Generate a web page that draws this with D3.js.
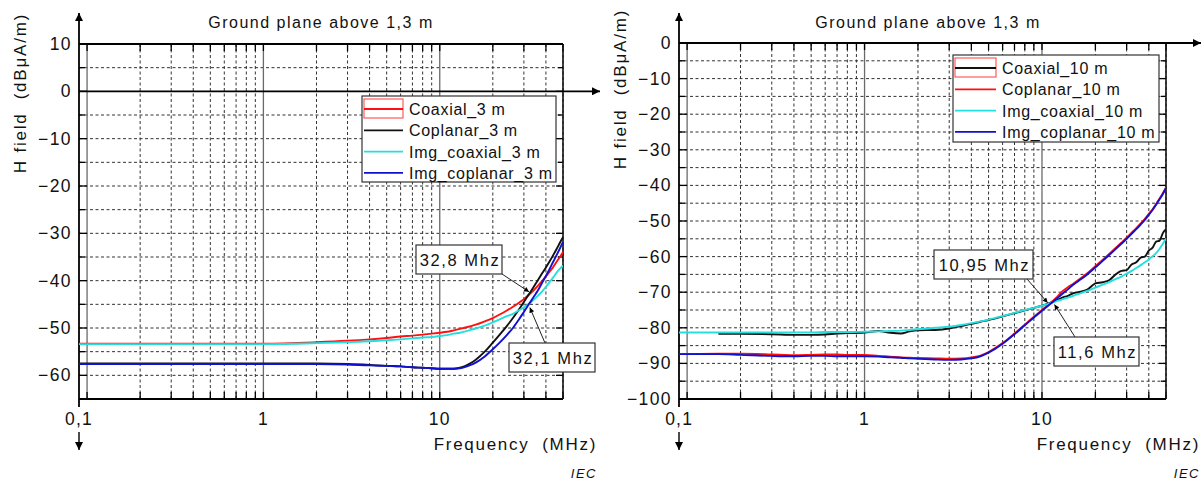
<!DOCTYPE html>
<html>
<head>
<meta charset="utf-8">
<script src="https://cdn.jsdelivr.net/npm/d3@7"></script>
<style>
  body { margin: 0; background: #fff; }
  svg text { font-family: "Liberation Sans", Arial, Helvetica, sans-serif; fill: #111; }
</style>
</head>
<body>
<svg id="chart" width="1204" height="484"></svg>
<script>
// ---------- data: 3 m setup (left panel) ----------
const freq3 = [0.09, 0.2, 0.5, 1, 2, 3, 4, 5, 6, 7, 8, 9, 10, 11, 12, 13, 14, 15, 16, 18, 20,
  22, 24, 26, 28, 30, 32, 34, 36, 38, 40, 42, 44, 46, 48, 50];
const coaxial3 = [-53.3, -53.3, -53.3, -53.3, -53.0, -52.7, -52.4, -52.1, -51.8, -51.6, -51.4, -51.2,
  -51.0, -50.8, -50.5, -50.2, -49.9, -49.6, -49.3, -48.6, -47.9, -47.1, -46.3, -45.5, -44.7, -43.9,
  -43.0, -42.1, -41.1, -40.1, -39.1, -38.1, -37.1, -36.0, -35.0, -34.0];
const coplanar3 = [-57.5, -57.5, -57.5, -57.5, -57.5, -57.6, -57.8, -58.0, -58.1, -58.3, -58.4, -58.5,
  -58.6, -58.6, -58.6, -58.4, -58.0, -57.4, -56.7, -55.0, -53.1, -51.3, -49.6, -47.9, -46.2, -44.5,
  -42.9, -41.4, -39.9, -38.5, -37.2, -35.9, -34.6, -33.3, -32.0, -30.8];
const imgCoaxial3 = [-53.4, -53.4, -53.4, -53.4, -53.2, -53.0, -52.8, -52.6, -52.4, -52.2, -52.0, -51.9,
  -51.7, -51.5, -51.2, -51.0, -50.7, -50.4, -50.1, -49.5, -48.8, -48.1, -47.5, -47.0, -46.3, -45.6,
  -44.9, -44.1, -43.2, -42.3, -41.3, -40.3, -39.3, -38.3, -37.5, -36.8];
const imgCoplanar3 = [-57.6, -57.6, -57.6, -57.6, -57.6, -57.7, -57.9, -58.0, -58.1, -58.3, -58.4, -58.5,
  -58.6, -58.6, -58.6, -58.5, -58.2, -57.8, -57.3, -56.0, -54.5, -53.0, -51.5, -50.0, -48.3, -46.6,
  -45.0, -43.5, -42.1, -40.5, -39.0, -37.5, -36.0, -34.6, -33.2, -31.8];

// ---------- data: 10 m setup (right panel) ----------
const freq10 = [0.09, 0.15, 0.2, 0.3, 0.4, 0.5, 0.6, 0.7, 0.8, 1, 1.2, 1.4, 1.6, 1.8, 2, 2.5, 3, 3.5,
  4, 4.5, 5, 6, 7, 8, 9, 10, 11, 12, 13, 14, 15, 16, 18, 20, 22, 24, 26, 28, 30, 32, 34, 36, 38, 40,
  42, 44, 46, 48, 50];
const coaxial10 = [null, -81.7, -81.7, -81.8, -82.0, -82.0, -81.9, -81.6, -81.5, -81.3, -80.9, -81.4,
  -81.6, -81.0, -80.7, -80.6, -80.2, -79.5, -78.9, -78.3, -77.8, -76.8, -75.9, -75.1, -74.4, -73.8,
  -73.1, -72.3, -71.5, -71.0, -70.3, -70.0, -69.3, -67.5, -67.2, -66.6, -65.0, -64.0, -63.8, -62.2,
  -61.6, -60.3, -60.0, -58.3, -57.5, -55.8, -55.5, -53.4, -52.3];
const coplanar10 = [-87.4, -87.3, -87.3, -87.5, -87.7, -87.6, -87.5, -87.5, -87.6, -87.6, -87.9, -88.1,
  -88.3, -88.4, -88.5, -88.6, -88.7, -88.6, -88.3, -87.8, -86.8, -84.3, -81.6, -79.1, -76.9, -75.0,
  -73.3, -71.6, -69.8, -68.6, -67.6, -66.6, -64.7, -62.7, -60.9, -59.2, -57.6, -56.1, -54.7, -53.3,
  -52.0, -50.7, -49.4, -48.0, -46.7, -45.2, -43.7, -42.2, -40.6];
const imgCoaxial10 = [-81.3, -81.3, -81.3, -81.3, -81.3, -81.3, -81.2, -81.2, -81.2, -81.1, -81.0, -80.9,
  -80.8, -80.6, -80.4, -80.0, -79.7, -79.2, -78.7, -78.2, -77.7, -76.7, -75.8, -75.0, -74.4, -73.8,
  -73.2, -72.6, -72.0, -71.5, -71.0, -70.5, -69.6, -68.7, -67.9, -67.1, -66.3, -65.6, -64.8, -64.0,
  -63.2, -62.4, -61.6, -60.8, -59.9, -59.0, -57.8, -56.4, -54.9];
const imgCoplanar10 = [-87.4, -87.4, -87.6, -87.9, -88.0, -87.9, -87.9, -88.0, -88.0, -88.0, -88.1, -88.3,
  -88.4, -88.6, -88.7, -88.9, -89.0, -88.9, -88.6, -88.0, -87.0, -84.5, -81.8, -79.3, -77.1, -75.2,
  -73.5, -72.0, -70.5, -69.2, -67.9, -66.9, -65.0, -63.0, -61.2, -59.5, -57.9, -56.4, -55.0, -53.6,
  -52.3, -51.0, -49.7, -48.3, -46.9, -45.4, -43.9, -42.4, -40.8];

// ---------- axis ticks and labels ----------
const xTickValues = [0.1, 1, 10];
const xTickLabels = ["0,1", "1", "10"];
const yTicks3 = [10, 0, -10, -20, -30, -40, -50, -60];
const yTicks10 = [0, -10, -20, -30, -40, -50, -60, -70, -80, -90, -100];
const titleText = "Ground plane above 1,3 m";
const yLabelText = "H field  (dBμA/m)";
const xLabelText = "Frequency  (MHz)";

// crossing annotations: [label, frequency, field value]
const notes3 = [["32,8 Mhz", 32.8, -42.6], ["32,1 Mhz", 32.1, -45.3]];
const notes10 = [["10,95 Mhz", 10.95, -73.4], ["11,6 Mhz", 11.6, -73.0]];

const RED = "#ff1010", BLACK = "#111111", CYAN = "#22e0e0", BLUE = "#1010d0";

const svg = d3.select("#chart");
const defs = svg.append("defs");
defs.append("marker").attr("id", "axisHead")
  .attr("viewBox", "0 0 10 10").attr("refX", 10).attr("refY", 5)
  .attr("markerUnits", "userSpaceOnUse").attr("markerWidth", 13).attr("markerHeight", 8)
  .attr("orient", "auto")
  .append("path").attr("d", "M0,0 L10,5 L0,10 z").attr("fill", "#000");
defs.append("marker").attr("id", "noteHead")
  .attr("viewBox", "0 0 10 10").attr("refX", 10).attr("refY", 5)
  .attr("markerUnits", "userSpaceOnUse").attr("markerWidth", 10).attr("markerHeight", 5)
  .attr("orient", "auto")
  .append("path").attr("d", "M0,0 L10,5 L0,10 z").attr("fill", "#000");

function panel(o) {
  const x = d3.scaleLog().domain([0.09, 50]).range(o.xRange);
  const y = d3.scaleLinear().domain(o.yDomain).range([o.bottom, o.top]);
  const [x0, x1] = o.xRange;
  const top = o.top, bottom = o.bottom;
  const g = svg.append("g");
  const clipId = "clip" + o.id;
  defs.append("clipPath").attr("id", clipId)
    .append("rect").attr("x", x0).attr("y", top).attr("width", x1 - x0).attr("height", bottom - top);

  // minor frequency positions
  const minorF = [];
  [0.1, 1, 10].forEach(d => { for (let k = 2; k <= 9; k++) { const f = k * d; if (f <= 50) minorF.push(+f.toPrecision(3)); } });

  // dashed vertical grid
  g.selectAll(null).data(minorF).join("line")
    .attr("x1", d => x(d)).attr("x2", d => x(d)).attr("y1", top).attr("y2", bottom)
    .attr("stroke", "#333").attr("stroke-width", 1).attr("stroke-dasharray", "3,2.5");
  // dashed horizontal grid every 5 units
  const hGrid = d3.range(o.yDomain[0] + 5, o.yDomain[1], 5).filter(v => v !== o.solidY);
  g.selectAll(null).data(hGrid).join("line")
    .attr("x1", x0).attr("x2", x1).attr("y1", d => y(d)).attr("y2", d => y(d))
    .attr("stroke", "#333").attr("stroke-width", 1).attr("stroke-dasharray", "3,2.5");
  // solid decade lines
  g.selectAll(null).data(xTickValues).join("line")
    .attr("x1", d => x(d)).attr("x2", d => x(d)).attr("y1", top).attr("y2", bottom)
    .attr("stroke", "#6a6a6a").attr("stroke-width", 1.3);

  // tick marks: bottom (up), top (down)
  const allF = minorF.concat(xTickValues);
  g.selectAll(null).data(allF).join("line")
    .attr("x1", d => x(d)).attr("x2", d => x(d)).attr("y1", bottom).attr("y2", bottom - 7)
    .attr("stroke", "#000").attr("stroke-width", 1.3);
  g.selectAll(null).data(allF).join("line")
    .attr("x1", d => x(d)).attr("x2", d => x(d)).attr("y1", top).attr("y2", top + 7)
    .attr("stroke", "#000").attr("stroke-width", 1.3);
  // left (right-pointing) and right (left-pointing) ticks every 5
  const yAll = d3.range(o.yDomain[0], o.yDomain[1] + 0.1, 5);
  g.selectAll(null).data(yAll).join("line")
    .attr("x1", x0).attr("x2", d => x0 + (d % 10 === 0 ? 8 : 6)).attr("y1", d => y(d)).attr("y2", d => y(d))
    .attr("stroke", "#000").attr("stroke-width", 1.3);
  g.selectAll(null).data(yAll).join("line")
    .attr("x1", x1).attr("x2", d => x1 - (d % 10 === 0 ? 7 : 5)).attr("y1", d => y(d)).attr("y2", d => y(d))
    .attr("stroke", "#000").attr("stroke-width", 1.3);

  // frame
  g.append("line").attr("x1", x0).attr("x2", x1).attr("y1", top).attr("y2", top)
    .attr("stroke", "#000").attr("stroke-width", 1.8);
  g.append("line").attr("x1", x0).attr("x2", x1).attr("y1", bottom).attr("y2", bottom)
    .attr("stroke", "#000").attr("stroke-width", 1.8);
  g.append("line").attr("x1", x1).attr("x2", x1).attr("y1", top).attr("y2", bottom)
    .attr("stroke", "#111").attr("stroke-width", 1.6);
  // y axis with upward arrow
  g.append("line").attr("x1", x0).attr("x2", x0).attr("y1", bottom + 8).attr("y2", 13)
    .attr("stroke", "#000").attr("stroke-width", 1.8).attr("marker-end", "url(#axisHead)");
  // downward arrow below the axis
  g.append("line").attr("x1", x0).attr("x2", x0).attr("y1", bottom + 33).attr("y2", bottom + 51)
    .attr("stroke", "#000").attr("stroke-width", 1.4).attr("marker-end", "url(#axisHead)");
  // x axis line with arrow
  g.append("line").attr("x1", x0).attr("x2", o.arrowX).attr("y1", y(o.solidY)).attr("y2", y(o.solidY))
    .attr("stroke", "#000").attr("stroke-width", 1.8).attr("marker-end", "url(#axisHead)");

  // data lines
  const line = d3.line().defined(d => d[1] !== null).x(d => x(d[0])).y(d => y(d[1])).curve(d3.curveMonotoneX);
  const lines = g.append("g").attr("clip-path", `url(#${clipId})`);
  o.series.forEach(s => {
    lines.append("path").datum(o.freq.map((f, i) => [f, s.values[i]]))
      .attr("d", line).attr("fill", "none").attr("stroke", s.color).attr("stroke-width", 1.9)
      .attr("stroke-linejoin", "round");
  });

  // tick labels
  g.selectAll(null).data(o.yTicks).join("text")
    .attr("x", x0 - 7).attr("y", d => y(d) + 6).attr("text-anchor", "end")
    .attr("font-size", 17.5).attr("letter-spacing", 1.4)
    .text(d => d < 0 ? "\u2212" + Math.abs(d) : String(d));
  g.selectAll(null).data(xTickValues).join("text")
    .attr("x", (d, i) => x(d) - (i === 0 ? 8 : 0)).attr("y", bottom + 26).attr("text-anchor", "middle")
    .attr("font-size", 17.5).attr("letter-spacing", 1.2)
    .text((d, i) => xTickLabels[i]);

  // titles
  g.append("text").attr("x", o.titleX).attr("y", 28).attr("text-anchor", "middle")
    .attr("font-size", 16).attr("letter-spacing", 1.5).text(titleText);
  g.append("text").attr("transform", `translate(${x0 - 53},${o.yLabelY}) rotate(-90)`)
    .attr("text-anchor", "middle").attr("font-size", 17).attr("letter-spacing", 1.8)
    .style("white-space", "pre").text(yLabelText);
  g.append("text").attr("x", x1 + 34).attr("y", 450).attr("text-anchor", "end")
    .attr("font-size", 17).attr("letter-spacing", 1.7).style("white-space", "pre").text(xLabelText);
  g.append("text").attr("x", x1 + 34).attr("y", 478).attr("text-anchor", "end")
    .attr("font-size", 13).attr("font-style", "italic").attr("letter-spacing", 1.5).text("IEC");

  // legend
  const L = o.legend;
  const lg = g.append("g");
  lg.append("rect").attr("x", L.x).attr("y", L.y).attr("width", L.w).attr("height", L.h)
    .attr("fill", "#fff").attr("stroke", "#333").attr("stroke-width", 1.2);
  o.series.forEach((s, i) => {
    const ry = L.y + 13 + i * 21.3;
    if (i === 0) {
      lg.append("rect").attr("x", L.x + 2).attr("y", ry - 10).attr("width", L.sw).attr("height", 19)
        .attr("fill", "none").attr("stroke", "#ff5a5a").attr("stroke-width", 1.2);
    }
    lg.append("line").attr("x1", L.x + 2).attr("x2", L.x + 2 + L.sw).attr("y1", ry).attr("y2", ry)
      .attr("stroke", s.color).attr("stroke-width", 1.8);
    lg.append("text").attr("x", L.x + L.sw + 8).attr("y", ry + 6)
      .attr("font-size", 16).attr("letter-spacing", 0.7).style("white-space", "pre").text(s.name);
  });

  // crossing annotations
  o.notes.forEach((n, i) => {
    const b = o.noteBoxes[i];
    const tx = x(n[1]), ty = y(n[2]);
    const ax = b.ax, ay = b.ay;
    const dx = tx - ax, dy = ty - ay, len = Math.hypot(dx, dy);
    g.append("line").attr("x1", ax).attr("y1", ay)
      .attr("x2", tx - dx / len * 2).attr("y2", ty - dy / len * 2)
      .attr("stroke", "#222").attr("stroke-width", 1).attr("marker-end", "url(#noteHead)");
    g.append("rect").attr("x", b.x).attr("y", b.y).attr("width", b.w).attr("height", 29)
      .attr("fill", "#fff").attr("stroke", "#333").attr("stroke-width", 1.2);
    g.append("text").attr("x", b.x + b.w / 2 + 1).attr("y", b.y + 21).attr("text-anchor", "middle")
      .attr("font-size", 16.5).attr("letter-spacing", 1.6).text(n[0]);
  });
}

panel({
  id: "3m", xRange: [79, 563], yDomain: [-65, 10], top: 44, bottom: 399, solidY: 0, arrowX: 600,
  yTicks: yTicks3, titleX: 321, yLabelY: 93, freq: freq3,
  series: [
    { name: "Coaxial_3 m", values: coaxial3, color: RED },
    { name: "Coplanar_3 m", values: coplanar3, color: BLACK },
    { name: "Img_coaxial_3 m", values: imgCoaxial3, color: CYAN },
    { name: "Img_coplanar_3 m", values: imgCoplanar3, color: BLUE }
  ],
  legend: { x: 362, y: 96, w: 194, h: 86, sw: 39 },
  notes: notes3,
  noteBoxes: [ { x: 416, y: 245, w: 86, ax: 502, ay: 274 }, { x: 509, y: 343, w: 86, ax: 545, ay: 343 } ]
});

panel({
  id: "10m", xRange: [679, 1166], yDomain: [-100, 0], top: 43, bottom: 399, solidY: 0, arrowX: 1201,
  yTicks: yTicks10, titleX: 928, yLabelY: 89, freq: freq10,
  series: [
    { name: "Coaxial_10 m", values: coaxial10, color: BLACK },
    { name: "Coplanar_10 m", values: coplanar10, color: RED },
    { name: "Img_coaxial_10 m", values: imgCoaxial10, color: CYAN },
    { name: "Img_coplanar_10 m", values: imgCoplanar10, color: BLUE }
  ],
  legend: { x: 953, y: 55, w: 206, h: 87, sw: 41 },
  notes: notes10,
  noteBoxes: [ { x: 934, y: 250, w: 99, ax: 1027, ay: 279 }, { x: 1054, y: 337, w: 85, ax: 1075, ay: 337 } ]
});
</script>
</body>
</html>
